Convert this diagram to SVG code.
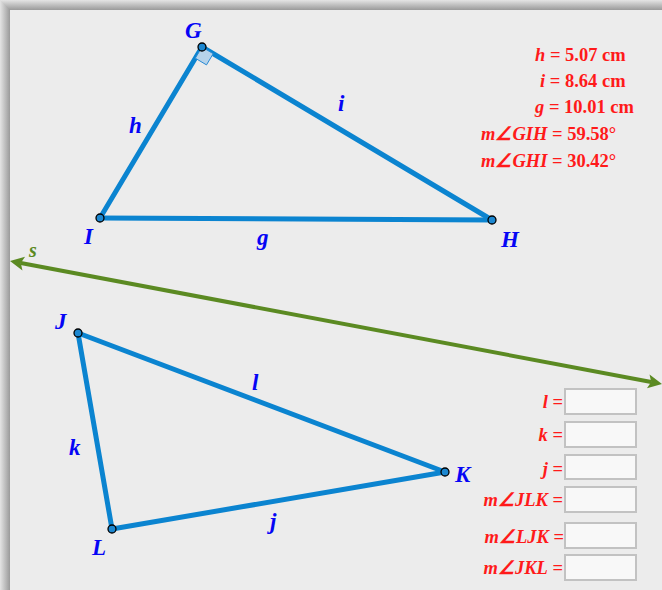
<svg xmlns="http://www.w3.org/2000/svg" width="662" height="590" viewBox="0 0 662 590">
<defs>
<linearGradient id="shL" x1="0" y1="0" x2="1" y2="0"><stop offset="0" stop-color="#e4e4e4"/><stop offset="1" stop-color="#9a9a9a"/></linearGradient>
<linearGradient id="shT" x1="0" y1="0" x2="0" y2="1"><stop offset="0" stop-color="#e4e4e4"/><stop offset="1" stop-color="#9a9a9a"/></linearGradient>
<style>
.seg{stroke:#0b84d0;stroke-width:5;stroke-linecap:round;fill:none}
.pt{fill:#1c87d0;stroke:#000;stroke-width:1.3}
.lbl{font-family:"Liberation Serif",serif;font-style:italic;font-weight:bold;font-size:23px;fill:#0505f5}
.red{font-family:"Liberation Serif",serif;font-weight:bold;font-size:18.5px;fill:#ff1a1a}
.it{font-style:italic}
.box{fill:#f8f8f8;stroke:#c2c2c2;stroke-width:2}
.ah{fill:#5b8a22}
</style>
</defs>
<rect x="0" y="0" width="662" height="590" fill="#ececec"/>
<rect x="0" y="0" width="10" height="590" fill="url(#shL)"/>
<rect x="0" y="0" width="662" height="10" fill="url(#shT)"/>
<polygon points="0,0 10,10 0,10" fill="url(#shL)"/>

<g id="connectors">
<g id="s">
<line x1="20.8" y1="263.04" x2="651.19" y2="381.96" stroke="#5b8a22" stroke-width="4"/>
<polygon class="ah" points="10,261 22.46,270.48 20.8,263.04 25.06,256.72"/>
<polygon class="ah" points="662,384 646.94,388.28 651.19,381.96 649.54,374.52"/>
</g>
<line class="seg" x1="202" y1="47" x2="100" y2="218"/>
<line class="seg" x1="202" y1="47" x2="492" y2="220"/>
<line class="seg" x1="100" y1="218" x2="492" y2="220"/>
<line class="seg" x1="78" y1="333" x2="445" y2="472"/>
<line class="seg" x1="78" y1="333" x2="112" y2="529"/>
<line class="seg" x1="112" y1="529" x2="445" y2="472"/>
</g>
<polygon id="rightangle" points="202,47 195.3,58.2 206.5,64.9 213.2,53.7" fill="#b6d3ea" stroke="#2a8ad4" stroke-width="1"/>

<g id="G"><circle class="pt" cx="202" cy="47" r="4"/><text class="lbl" x="185" y="38">G</text></g>
<g id="I"><circle class="pt" cx="100" cy="218" r="4"/><text class="lbl" x="84" y="244">I</text></g>
<g id="H"><circle class="pt" cx="492" cy="220" r="4"/><text class="lbl" x="501" y="247">H</text></g>
<g id="J"><circle class="pt" cx="78" cy="333" r="4"/><text class="lbl" x="55" y="329">J</text></g>
<g id="K"><circle class="pt" cx="445" cy="472" r="4"/><text class="lbl" x="455" y="482">K</text></g>
<g id="L"><circle class="pt" cx="112" cy="529" r="4"/><text class="lbl" x="92" y="555">L</text></g>

<g id="seglabels">
<text class="lbl" x="129" y="133">h</text>
<text class="lbl" x="338" y="111">i</text>
<text class="lbl" x="257" y="245">g</text>
<text class="lbl" x="252" y="390">l</text>
<text class="lbl" x="69" y="455">k</text>
<text class="lbl" x="270" y="529">j</text>
<text x="29" y="257" font-family="Liberation Serif,serif" font-style="italic" font-weight="bold" font-size="20" fill="#5b8a22">s</text>
</g>

<g id="measures">
<text class="red" x="535" y="61"><tspan class="it">h</tspan> = 5.07 cm</text>
<text class="red" x="540" y="87"><tspan class="it">i</tspan> = 8.64 cm</text>
<text class="red" x="535" y="113"><tspan class="it">g</tspan> = 10.01 cm</text>
<text class="red" x="481" y="140"><tspan class="it">m∠GIH</tspan> = 59.58°</text>
<text class="red" x="481" y="167"><tspan class="it">m∠GHI</tspan> = 30.42°</text>
</g>

<g id="inputs">
<rect class="box" x="565" y="389" width="71" height="25"/>
<rect class="box" x="565" y="422" width="71" height="25"/>
<rect class="box" x="565" y="455" width="71" height="24"/>
<rect class="box" x="565" y="487" width="71" height="25"/>
<rect class="box" x="565" y="523" width="71" height="25"/>
<rect class="box" x="565" y="555" width="71" height="25"/>
<g text-anchor="end">
<text class="red" x="563" y="408"><tspan class="it">l</tspan> =</text>
<text class="red" x="563" y="441"><tspan class="it">k</tspan> =</text>
<text class="red" x="563" y="475"><tspan class="it">j</tspan> =</text>
<text class="red" x="563" y="506"><tspan class="it">m∠JLK</tspan> =</text>
<text class="red" x="564" y="543"><tspan class="it">m∠LJK</tspan> =</text>
<text class="red" x="563" y="574"><tspan class="it">m∠JKL</tspan> =</text>
</g>
</g>
</svg>
